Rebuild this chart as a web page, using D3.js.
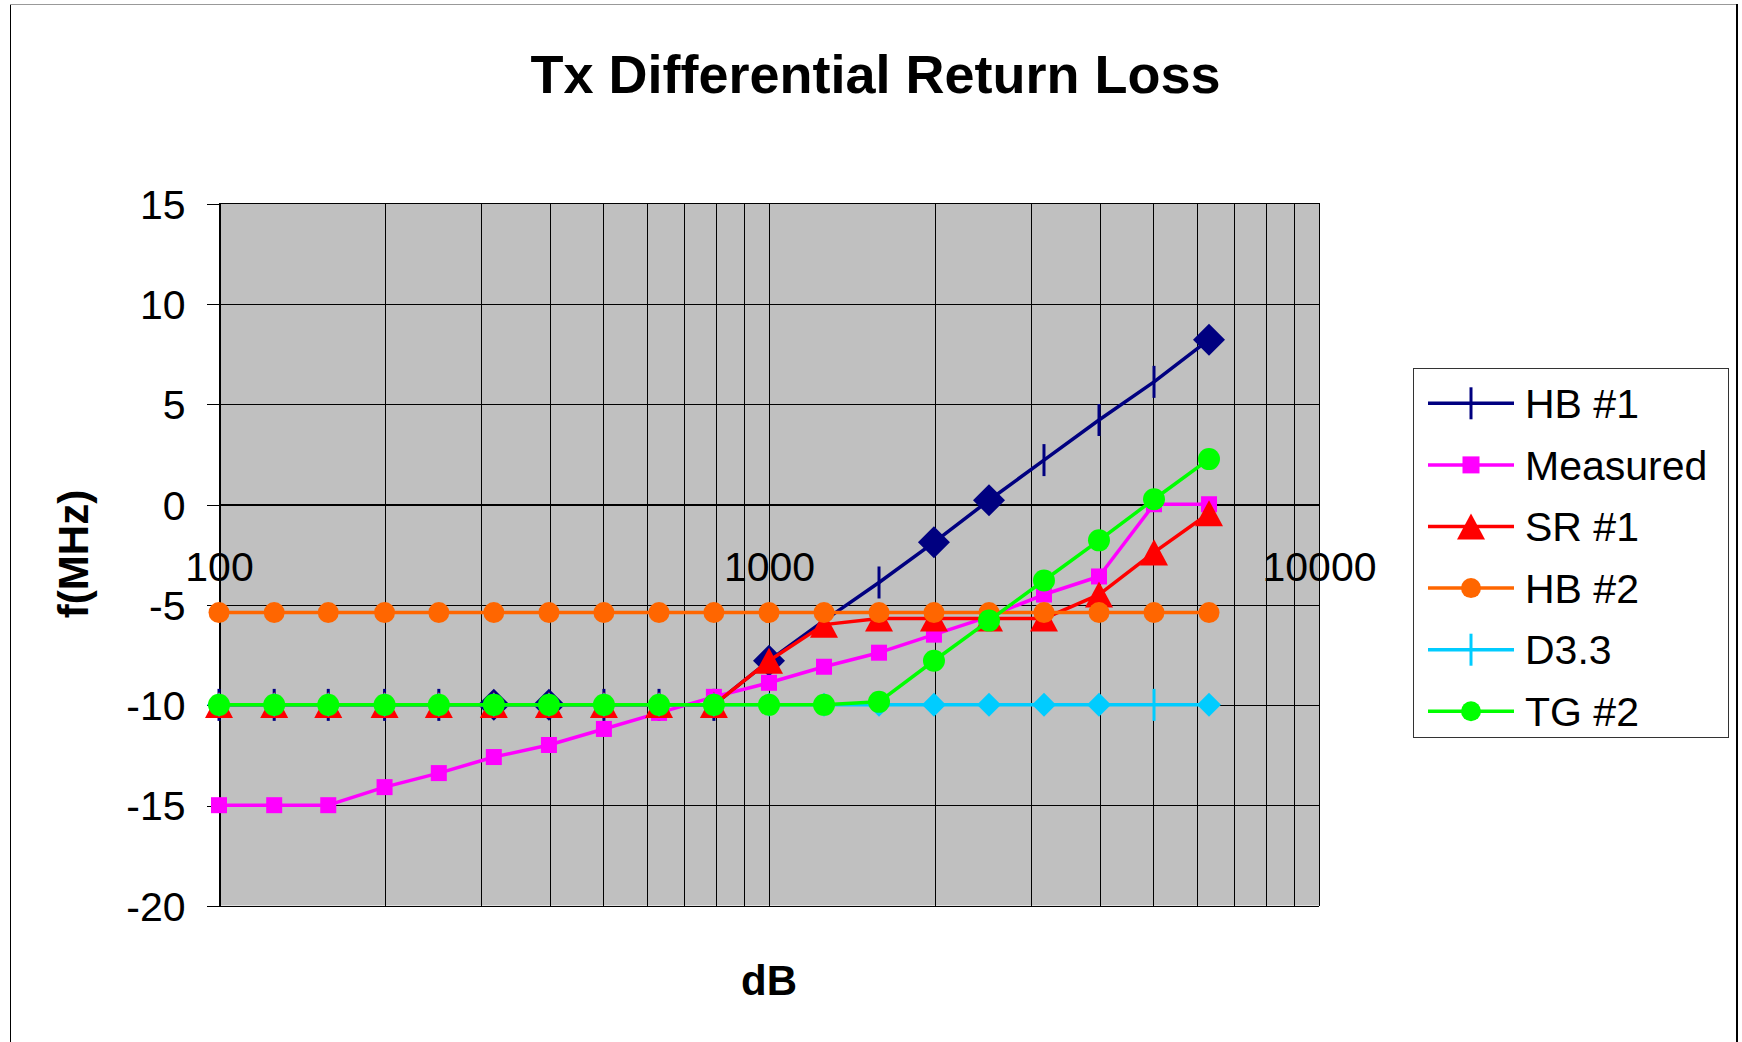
<!DOCTYPE html>
<html>
<head>
<meta charset="utf-8">
<script src="https://cdn.jsdelivr.net/npm/d3@7"></script>
<style>
body { margin: 0; background: #fff; }
</style>
</head>
<body>
<div id="chart"></div>
<script>
// frequencies (log x axis)
var freqs = [100, 126, 158, 200, 251, 316, 398, 501, 631, 794, 1000, 1259, 1585, 1995, 2512, 3162, 3981, 5012, 6310];

// series values
var hb1 = [-10, -10, -10, -10, -10, -10, -10, -10, -10, -10, -7.8, -5.8, -3.9, -1.9, 0.2, 2.2, 4.2, 6.1, 8.2];
var measured = [-15, -15, -15, -14.1, -13.4, -12.6, -12, -11.2, -10.4, -9.6, -8.9, -8.1, -7.4, -6.5, -5.6, -4.5, -3.6, 0, 0];
var sr1 = [-10, -10, -10, -10, -10, -10, -10, -10, -10, -10, -7.8, -6.0, -5.7, -5.7, -5.7, -5.7, -4.5, -2.4, -0.45];
var hb2 = [-5.4, -5.4, -5.4, -5.4, -5.4, -5.4, -5.4, -5.4, -5.4, -5.4, -5.4, -5.4, -5.4, -5.4, -5.4, -5.4, -5.4, -5.4, -5.4];
var d33 = [-10, -10, -10, -10, -10, -10, -10, -10, -10, -10, -10, -10, -10, -10, -10, -10, -10, -10, -10];
var tg2 = [-10, -10, -10, -10, -10, -10, -10, -10, -10, -10, -10, -10, -9.85, -7.8, -5.8, -3.8, -1.8, 0.25, 2.25];

var seriesNames = ['HB #1', 'Measured', 'SR #1', 'HB #2', 'D3.3', 'TG #2'];
var yTicks = [-20, -15, -10, -5, 0, 5, 10, 15];
var xLabels = [100, 1000, 10000];

// per point marker shapes (some points of the chart carry their own marker)
var hb1Shapes = ['plus', 'plus', 'plus', 'plus', 'plus', 'diamond', 'diamond', 'plus', 'plus', 'plus',
    'diamond', 'plus', 'plus', 'diamond', 'diamond', 'plus', 'plus', 'plus', 'diamond'];
var d33Shapes = ['diamond', 'diamond', 'diamond', 'diamond', 'diamond', 'diamond', 'diamond', 'diamond', 'diamond', 'diamond',
    'diamond', 'diamond', 'diamond', 'diamond', 'diamond', 'diamond', 'diamond', 'plus', 'diamond'];

var fullWidth = 1742;
var fullHeight = 1042;
var mainFont = '"Liberation Sans", Arial, sans-serif';
var textSize = 41;
var lineWidth = 3.5;

var plotLeft = 219, plotRight = 1319, plotTop = 203.3, plotBottom = 905.5;

var series = [
    { values: hb1, color: '#000080', shapes: hb1Shapes, legendShape: 'plus', size: 16 },
    { values: measured, color: '#FF00FF', shape: 'square', legendShape: 'square', size: 16 },
    { values: sr1, color: '#FF0000', shape: 'triangle', legendShape: 'triangle', size: 28 },
    { values: hb2, color: '#FF6600', shape: 'circle', legendShape: 'circle', size: 10.5 },
    { values: d33, color: '#00CCFF', shapes: d33Shapes, legendShape: 'plus', size: 12 },
    { values: tg2, color: '#00FF00', shape: 'circle', legendShape: 'circle', size: 11 }
];

window.onload = function() {
    render();
};

function render() {
    var svg = d3.select('#chart').append('svg')
        .attr('width', fullWidth)
        .attr('height', fullHeight);

    // chart area border
    svg.append('line').attr('x1', 10.5).attr('y1', 4.5).attr('x2', 10.5).attr('y2', fullHeight)
        .attr('stroke', '#000').attr('stroke-width', 1);
    svg.append('line').attr('x1', 10).attr('y1', 4.5).attr('x2', 1737).attr('y2', 4.5)
        .attr('stroke', '#999').attr('stroke-width', 1);
    svg.append('line').attr('x1', 1737).attr('y1', 4).attr('x2', 1737).attr('y2', fullHeight)
        .attr('stroke', '#000').attr('stroke-width', 2);

    // title
    svg.append('text')
        .attr('x', 875.5)
        .attr('y', 92.7)
        .style('font-family', mainFont)
        .style('font-size', '54px')
        .style('font-weight', 'bold')
        .style('text-anchor', 'middle')
        .text('Tx Differential Return Loss');

    var x = d3.scaleLog().domain([100, 10000]).range([plotLeft, plotRight]);
    var y = d3.scaleLinear().domain([-20, 15]).range([plotBottom, plotTop]);

    makeGraph(svg, x, y);
    makeLegend(svg);

    // axis titles
    svg.append('text')
        .attr('transform', 'translate(88,554) rotate(-90)')
        .style('font-family', mainFont)
        .style('font-size', '42px')
        .style('font-weight', 'bold')
        .style('text-anchor', 'middle')
        .text('f(MHz)');

    svg.append('text')
        .attr('x', 769)
        .attr('y', 995)
        .style('font-family', mainFont)
        .style('font-size', '42px')
        .style('font-weight', 'bold')
        .style('text-anchor', 'middle')
        .text('dB');
}

function makeGraph(svg, x, y) {
    // plot background
    svg.append('rect')
        .attr('x', plotLeft)
        .attr('y', plotTop)
        .attr('width', plotRight - plotLeft)
        .attr('height', plotBottom - plotTop)
        .style('fill', '#C0C0C0');

    // vertical gridlines on every log tick
    var grid = svg.append('g').attr('shape-rendering', 'crispEdges');
    grid.selectAll('line.vx')
        .data(x.ticks())
        .enter().append('line')
        .attr('x1', function(d) { return Math.round(x(d)) + 0.5; })
        .attr('x2', function(d) { return Math.round(x(d)) + 0.5; })
        .attr('y1', plotTop)
        .attr('y2', plotBottom)
        .attr('stroke', '#000')
        .attr('stroke-width', 1);

    // horizontal gridlines
    grid.selectAll('line.hy')
        .data(yTicks)
        .enter().append('line')
        .attr('x1', plotLeft)
        .attr('x2', plotRight)
        .attr('y1', function(d) { return Math.round(y(d)) + 0.5; })
        .attr('y2', function(d) { return Math.round(y(d)) + 0.5; })
        .attr('stroke', '#000')
        .attr('stroke-width', 1);

    // y axis with outside ticks, plain hyphen for negatives
    var yAxis = svg.append('g')
        .attr('transform', 'translate(' + (Math.round(plotLeft) + 0.5) + ',0)')
        .call(d3.axisLeft(y).tickValues(yTicks).tickSize(13).tickPadding(21).tickSizeOuter(0)
            .tickFormat(function(d) { return String(d); }));
    yAxis.select('.domain').attr('stroke', '#000').attr('shape-rendering', 'crispEdges');
    yAxis.selectAll('.tick line').attr('stroke', '#000').attr('shape-rendering', 'crispEdges')
        .attr('transform', 'translate(0,0.5)');
    yAxis.selectAll('.tick text')
        .attr('dy', '0.36em')
        .style('font-family', mainFont)
        .style('font-size', textSize + 'px')
        .style('fill', '#000');

    // x axis crosses at y = 0, labels sit under it
    var xAxis = svg.append('g')
        .attr('transform', 'translate(0,' + (Math.round(y(0)) + 0.5) + ')')
        .call(d3.axisBottom(x).tickValues(xLabels).tickSize(0).tickPadding(47)
            .tickFormat(function(d) { return String(d); }));
    xAxis.select('.domain').attr('stroke', '#000').attr('shape-rendering', 'crispEdges');
    xAxis.selectAll('.tick text')
        .style('font-family', mainFont)
        .style('font-size', textSize + 'px')
        .style('fill', '#000');

    // series: line then markers, in series order
    var line = d3.line()
        .x(function(d) { return x(d[0]); })
        .y(function(d) { return y(d[1]); });

    series.forEach(function(s) {
        var pts = freqs.map(function(f, i) { return [f, s.values[i]]; });
        svg.append('path')
            .attr('d', line(pts))
            .attr('fill', 'none')
            .attr('stroke', s.color)
            .attr('stroke-width', lineWidth)
            .attr('stroke-linejoin', 'round');

        pts.forEach(function(p, i) {
            var shape = s.shapes ? s.shapes[i] : s.shape;
            drawMarker(svg, shape, x(p[0]), y(p[1]), s.color, s.size);
        });
    });
}

function drawMarker(svg, shape, cx, cy, color, size) {
    if (shape === 'plus') {
        // only the upright stroke shows in the reference
        svg.append('path')
            .attr('d', 'M' + cx + ',' + (cy - 16) + 'V' + (cy + 16))
            .attr('stroke', color)
            .attr('stroke-width', 3)
            .attr('fill', 'none');
    } else if (shape === 'diamond') {
        svg.append('path')
            .attr('d', 'M' + cx + ',' + (cy - size) + 'L' + (cx + size) + ',' + cy + 'L' + cx + ',' + (cy + size) + 'L' + (cx - size) + ',' + cy + 'Z')
            .attr('fill', color);
    } else if (shape === 'square') {
        svg.append('rect')
            .attr('x', cx - size / 2)
            .attr('y', cy - size / 2)
            .attr('width', size)
            .attr('height', size)
            .attr('fill', color);
    } else if (shape === 'triangle') {
        var h = size * 0.93;
        svg.append('path')
            .attr('d', 'M' + cx + ',' + (cy - h / 2) + 'L' + (cx + size / 2) + ',' + (cy + h / 2) + 'L' + (cx - size / 2) + ',' + (cy + h / 2) + 'Z')
            .attr('fill', color);
    } else if (shape === 'circle') {
        svg.append('circle')
            .attr('cx', cx)
            .attr('cy', cy)
            .attr('r', size)
            .attr('fill', color);
    }
}

function makeLegend(svg) {
    var lx = 1413.5, ly = 368.5, lw = 315, lh = 369;
    svg.append('rect')
        .attr('x', lx)
        .attr('y', ly)
        .attr('width', lw)
        .attr('height', lh)
        .attr('fill', '#fff')
        .attr('stroke', '#333')
        .attr('stroke-width', 1);

    var rowStart = 403.3;
    var rowStep = 61.6;
    series.forEach(function(s, i) {
        var cy = rowStart + i * rowStep;
        svg.append('line')
            .attr('x1', 1428)
            .attr('x2', 1514)
            .attr('y1', cy)
            .attr('y2', cy)
            .attr('stroke', s.color)
            .attr('stroke-width', lineWidth);
        var size = s.legendShape === 'square' ? 17 : (s.legendShape === 'circle' ? 10 : s.size);
        drawMarker(svg, s.legendShape, 1471, cy, s.color, size);
        svg.append('text')
            .attr('x', 1525)
            .attr('y', cy)
            .attr('dy', '0.36em')
            .style('font-family', mainFont)
            .style('font-size', textSize + 'px')
            .text(seriesNames[i]);
    });
}
</script>
</body>
</html>
